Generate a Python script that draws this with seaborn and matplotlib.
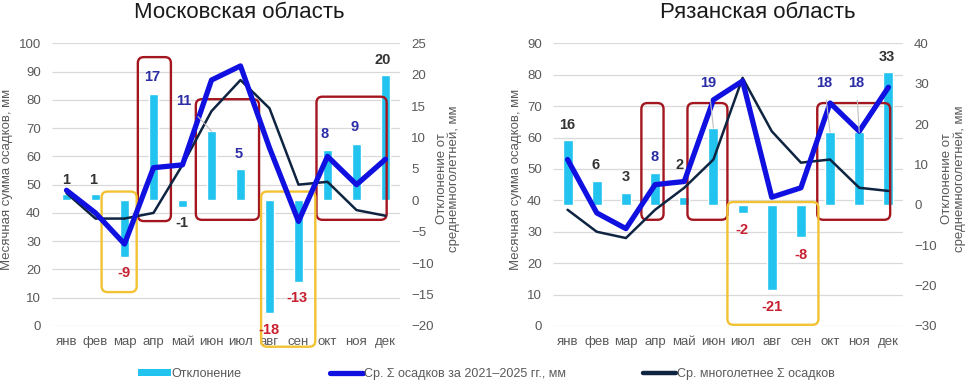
import matplotlib
matplotlib.use("Agg")
import pandas as pd
import seaborn as sns
import matplotlib.pyplot as plt
from matplotlib.patches import FancyBboxPatch, Patch
from matplotlib.lines import Line2D

months = ['янв', 'фев', 'мар', 'апр', 'май', 'июн', 'июл', 'авг', 'сен', 'окт', 'ноя', 'дек']

# Московская область
msk_dev = [1, 1, -9, 17, -1, 11, 5, -18, -13, 8, 9, 20]
msk_recent = [48, 40, 29, 56, 57, 87, 92, 63, 37, 60, 50, 59]
msk_norm = [47, 38, 38, 40, 57, 76, 87, 77, 50, 51, 41, 39]

# Рязанская область
rzn_dev = [16, 6, 3, 8, 2, 19, -2, -21, -8, 18, 18, 33]
rzn_recent = [53, 36, 31, 45, 46, 72, 78, 41, 44, 71, 62, 76]
rzn_norm = [37, 30, 28, 37, 44, 53, 79, 62, 52, 53, 44, 43]

CYAN = '#22C3EE'
BLUE = '#1010E0'
NAVY = '#0E2441'
RED = '#A3161F'
YELLOW = '#F2C233'
GRAY = '#595959'
LBL = {'d': '#333333', 'b': '#2A2DA6', 'r': '#C8202F'}

sns.set_theme(style='white')
plt.rcParams['font.family'] = ['Liberation Sans', 'DejaVu Sans']

W_PX, H_PX = 975, 383
fig = plt.figure(figsize=(W_PX / 100, H_PX / 100), dpi=100)


def draw_region(rect, title_x, title, dev, recent, norm, ylim, ylim2, step2,
                boxes, lbl_pos, lbl_col, leaders, ylab_x, ylab2_x):
    ax = fig.add_axes(rect)
    ax2 = ax.twinx()
    df = pd.DataFrame({'month': months, 'dev': dev, 'recent': recent, 'norm': norm})

    sns.barplot(data=df, x='month', y='dev', ax=ax2, color=CYAN, width=0.34,
                saturation=1, zorder=2)
    sns.lineplot(data=df, x='month', y='norm', ax=ax, color=NAVY, lw=1.8, sort=False, zorder=3)
    sns.lineplot(data=df, x='month', y='recent', ax=ax, color=BLUE, lw=3.8, sort=False, zorder=4)

    ax.set_zorder(ax2.get_zorder() + 1)
    ax.patch.set_visible(False)

    left_ticks = list(range(ylim[0], ylim[1] + 1, 10))
    ax2.hlines(left_ticks, 0, 1, transform=ax.get_yaxis_transform(),
               colors='#D9D9D9', lw=0.9, zorder=0)

    ax.set_xlim(-0.5, 11.5)
    ax.set_ylim(*ylim)
    ax.set_yticks(left_ticks)
    ax2.set_ylim(*ylim2)
    ax2.set_yticks(list(range(ylim2[0], ylim2[1] + 1, step2)))

    for a in (ax, ax2):
        for s in a.spines.values():
            s.set_visible(False)
        a.tick_params(length=0, labelsize=9.5, labelcolor=GRAY)
        a.set_xlabel('')
    ax.tick_params(axis='y', pad=8)
    ax2.tick_params(axis='y', pad=8)
    ax.tick_params(axis='x', pad=7)

    ax.set_ylabel('Месячная сумма осадков, мм', fontsize=9.5, color=GRAY)
    ax.yaxis.set_label_coords(ylab_x, 0.52)
    ax2.set_ylabel('Отклонение от\nсреднемноголетней, мм', fontsize=9.5, color=GRAY,
                   linespacing=1.0)
    ax2.yaxis.set_label_coords(ylab2_x, 0.52)

    # rounded highlight boxes, corners kept circular in pixels
    w_px = rect[2] * W_PX
    h_px = rect[3] * H_PX
    px_x = w_px / 12
    px_y = h_px / (ylim2[1] - ylim2[0])
    for x0, x1, y0, y1, col in boxes:
        box = FancyBboxPatch((x0, y0), x1 - x0, y1 - y0,
                             boxstyle=f'round,pad=0,rounding_size={6 / px_x}',
                             mutation_aspect=px_x / px_y,
                             transform=ax2.transData, fill=False, ec=col, lw=1.7,
                             zorder=2.5, clip_on=False)
        ax.add_patch(box)

    for i, (v, (dx, ly), c) in enumerate(zip(dev, lbl_pos, lbl_col)):
        kw = {}
        if i in leaders:
            kw['arrowprops'] = dict(arrowstyle='-', color='#BFBFBF', lw=0.8,
                                    shrinkA=5, shrinkB=0)
        ax.annotate(f'{v}', xy=(i, v), xytext=(dx, ly), xycoords=ax2.transData,
                    textcoords=ax2.transData, ha='center', va='center',
                    fontsize=10.5, fontweight='bold', color=LBL[c], zorder=6,
                    annotation_clip=False, **kw)

    fig.text(title_x / W_PX, 1 - 13 / H_PX, title, ha='center', va='center',
             fontsize=16, color='#1a1a1a')
    return ax


msk_boxes = [(2.46, 3.60, -3.3, 22.8, RED), (4.46, 6.64, -3.1, 16.1, RED),
             (8.62, 11.04, -3.1, 16.5, RED), (1.21, 2.42, -14.6, 1.4, YELLOW),
             (6.71, 8.58, -23.3, 1.4, YELLOW)]
msk_lbl = [(0, 3.3), (0.93, 3.3), (1.97, -11.5), (2.95, 19.6), (3.98, -3.6), (4.05, 15.8),
           (5.95, 7.3), (6.99, -20.6), (7.96, -15.5), (8.9, 10.5), (9.93, 11.6), (10.9, 22.4)]
msk_col = ['d', 'd', 'r', 'b', 'd', 'b', 'b', 'r', 'r', 'b', 'b', 'd']

rzn_boxes = [(2.53, 3.29, -3.7, 25.2, RED), (4.11, 5.48, -3.7, 25.2, RED),
             (8.56, 11.06, -3.7, 25.2, RED), (5.48, 8.6, -29.7, 0.7, YELLOW)]
rzn_lbl = [(0, 19.8), (0.96, 9.9), (1.99, 6.9), (2.98, 11.9), (3.84, 9.9), (4.83, 30.2),
           (5.99, -6.2), (7.02, -25.2), (8.01, -12.4), (8.8, 30.2), (9.9, 30.2), (10.96, 36.6)]
rzn_col = ['d', 'd', 'd', 'b', 'd', 'b', 'r', 'r', 'r', 'b', 'b', 'd']

bottom = 1 - 326 / H_PX
height = (326 - 43.3) / H_PX

draw_region([52 / W_PX, bottom, 348 / W_PX, height], 239, 'Московская область',
            msk_dev, msk_recent, msk_norm, (0, 100), (-20, 25), 5,
            msk_boxes, msk_lbl, msk_col, [5], -0.112, 1.103)
draw_region([553 / W_PX, bottom, 350 / W_PX, height], 758, 'Рязанская область',
            rzn_dev, rzn_recent, rzn_norm, (0, 90), (-30, 40), 10,
            rzn_boxes, rzn_lbl, rzn_col, [5, 9, 10], -0.089, 1.109)

# legend entries placed one by one
entries = [
    (Patch(facecolor=CYAN, edgecolor='none'), 'Отклонение', 138),
    (Line2D([], [], color=BLUE, lw=3.8), 'Ср. Σ осадков за 2021–2025 гг., мм', 330),
    (Line2D([], [], color=NAVY, lw=3.2), 'Ср. многолетнее Σ осадков', 643),
]
for handle, label, x in entries:
    fig.legend([handle], [label], loc='center left', bbox_to_anchor=(x / W_PX, 1 - 374 / H_PX),
               frameon=False, fontsize=9, handlelength=2.6, handleheight=0.5,
               handletextpad=0.1, borderpad=0, borderaxespad=0, labelcolor=GRAY)

fig.savefig('out.png', dpi=100)
